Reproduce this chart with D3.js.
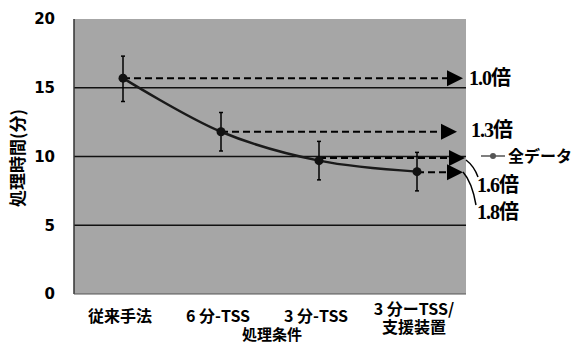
<!DOCTYPE html>
<html>
<head>
<meta charset="utf-8">
<script src="https://cdn.jsdelivr.net/npm/d3@7"></script>
<style>
  body { margin: 0; background: #fff; }
  svg { display: block; }
  .jp { font-family: "Noto Sans CJK JP", "Noto Sans", sans-serif; }
</style>
</head>
<body>
<svg id="draw"></svg>
<script>
// chart values
var categories = ["従来手法", "6 分-TSS", "3 分-TSS", "3 分ーTSS/\n支援装置"];
var meanValues = [15.7, 11.8, 9.7, 8.9];
var upperValues = [17.3, 13.2, 11.1, 10.3];
var lowerValues = [14.0, 10.4, 8.3, 7.5];
var ratioLabels = ["1.0倍", "1.3倍", "1.6倍", "1.8倍"];
var yTicks = [0, 5, 10, 15, 20];
var gridTicks = [5, 10, 15];

var width = 575, height = 343;
var margin = { top: 19, right: 109, bottom: 49, left: 74 };
var plotW = width - margin.left - margin.right;
var plotH = height - margin.top - margin.bottom;

var svg = d3.select("#draw")
  .attr("width", width)
  .attr("height", height);

var g = svg.append("g")
  .attr("transform", "translate(" + margin.left + "," + margin.top + ")");

var xScale = d3.scaleBand()
  .domain(categories)
  .range([0, plotW]);

var yScale = d3.scaleLinear()
  .domain([0, 20])
  .range([plotH, 0]);

function cx(d) { return xScale(d) + xScale.bandwidth() / 2; }

// plot background
g.append("rect")
  .attr("width", plotW)
  .attr("height", plotH)
  .attr("fill", "#a6a6a6");

// gridlines
g.selectAll(".grid")
  .data(gridTicks)
  .enter().append("line")
  .attr("x1", 0)
  .attr("x2", plotW)
  .attr("y1", function(d) { return yScale(d); })
  .attr("y2", function(d) { return yScale(d); })
  .attr("stroke", "#111")
  .attr("stroke-width", 1.5);

// left / bottom frame
g.append("line").attr("x1", 0).attr("x2", 0).attr("y1", 0).attr("y2", plotH)
  .attr("stroke", "#333").attr("stroke-width", 1.5);
g.append("line").attr("x1", 0).attr("x2", plotW).attr("y1", plotH).attr("y2", plotH)
  .attr("stroke", "#555").attr("stroke-width", 1);

// y axis
var yAxis = g.append("g")
  .call(d3.axisLeft(yScale).tickValues(yTicks).tickSize(0).tickPadding(19));
yAxis.select(".domain").remove();
yAxis.selectAll("text")
  .attr("font-family", "DejaVu Sans, sans-serif")
  .attr("font-weight", "bold")
  .attr("font-size", 15)
  .attr("fill", "#000");

// x axis labels (one text per line)
categories.forEach(function(d) {
  var lines = d.split("\n");
  lines.forEach(function(s, i) {
    g.append("text")
      .attr("class", "jp")
      .attr("text-anchor", "middle")
      .attr("font-size", 16)
      .attr("font-weight", "bold")
      .attr("fill", "#000")
      .attr("x", cx(d) - 3)
      .attr("y", lines.length > 1 ? plotH + 21 + i * 18 : plotH + 28)
      .text(s);
  });
});

// axis titles
svg.append("text")
  .attr("class", "jp")
  .attr("text-anchor", "middle")
  .attr("font-size", 15)
  .attr("font-weight", "bold")
  .attr("x", 272)
  .attr("y", 340)
  .text("処理条件");

svg.append("text")
  .attr("class", "jp")
  .attr("text-anchor", "middle")
  .attr("font-size", 17)
  .attr("font-weight", "bold")
  .attr("transform", "translate(24,158) rotate(-90)")
  .text("処理時間(分)");

// dashed arrows to ratio labels
var arrowEnd = [plotW - 3, plotW - 9, plotW - 1, plotW - 3];
var arrowY = [meanValues[0], meanValues[1], meanValues[2] + 0.2, meanValues[3] - 0.05];
var arrows = g.selectAll(".arrow")
  .data(categories)
  .enter().append("g");
arrows.append("line")
  .attr("x1", function(d) { return cx(d); })
  .attr("x2", function(d, i) { return arrowEnd[i] - 12; })
  .attr("y1", function(d, i) { return yScale(arrowY[i]); })
  .attr("y2", function(d, i) { return yScale(arrowY[i]); })
  .attr("stroke", "#000")
  .attr("stroke-width", 2)
  .attr("stroke-dasharray", "7,4");
arrows.append("path")
  .attr("d", function(d, i) {
    var x = arrowEnd[i], y = yScale(arrowY[i]);
    return "M" + x + "," + y + "L" + (x - 16) + "," + (y - 8) + "L" + (x - 16) + "," + (y + 8) + "Z";
  })
  .attr("fill", "#000");

// data line
var line = d3.line()
  .x(function(d) { return cx(d.c); })
  .y(function(d) { return yScale(d.v); })
  .curve(d3.curveCatmullRom.alpha(0.5));
var pts = categories.map(function(c, i) { return { c: c, v: meanValues[i], hi: upperValues[i], lo: lowerValues[i] }; });

g.append("path")
  .datum(pts)
  .attr("d", line)
  .attr("fill", "none")
  .attr("stroke", "#1a1a1a")
  .attr("stroke-width", 2.5);

// error bars
g.selectAll(".err")
  .data(pts)
  .enter().append("line")
  .attr("x1", function(d) { return cx(d.c); })
  .attr("x2", function(d) { return cx(d.c); })
  .attr("y1", function(d) { return yScale(d.hi); })
  .attr("y2", function(d) { return yScale(d.lo); })
  .attr("stroke", "#000")
  .attr("stroke-width", 1.5);
["hi", "lo"].forEach(function(k) {
  g.selectAll(".cap" + k)
    .data(pts)
    .enter().append("line")
    .attr("x1", function(d) { return cx(d.c) - 2; })
    .attr("x2", function(d) { return cx(d.c) + 2; })
    .attr("y1", function(d) { return yScale(d[k]); })
    .attr("y2", function(d) { return yScale(d[k]); })
    .attr("stroke", "#000")
    .attr("stroke-width", 1.5);
});

g.selectAll(".pt")
  .data(pts)
  .enter().append("circle")
  .attr("cx", function(d) { return cx(d.c); })
  .attr("cy", function(d) { return yScale(d.v); })
  .attr("r", 4.5)
  .attr("fill", "#111");

// ratio labels
var labelX = [469, 471, 477, 477];
var labelY = [78, 130, 185, 212];
svg.selectAll(".ratio")
  .data(ratioLabels)
  .enter().append("text")
  .attr("x", function(d, i) { return labelX[i]; })
  .attr("y", function(d, i) { return labelY[i]; })
  .attr("dy", "0.35em")
  .attr("font-family", "Liberation Serif, 'Noto Sans CJK JP', serif")
  .attr("font-weight", "bold")
  .attr("font-size", 20)
  .attr("letter-spacing", -1)
  .attr("fill", "#000")
  .text(function(d) { return d; });

// leader lines for 1.6 / 1.8
svg.append("path")
  .attr("d", "M466,160Q474,166 478,177")
  .attr("stroke", "#000").attr("stroke-width", 1.5).attr("fill", "none");
svg.append("path")
  .attr("d", "M463,172Q472,182 476,205")
  .attr("stroke", "#000").attr("stroke-width", 1.5).attr("fill", "none");

// legend
var leg = svg.append("g").attr("transform", "translate(481,156)");
leg.append("line").attr("x1", 0).attr("x2", 24).attr("y1", 0).attr("y2", 0)
  .attr("stroke", "#555").attr("stroke-width", 1.5);
leg.append("circle").attr("cx", 12).attr("cy", 0).attr("r", 3).attr("fill", "#555");
leg.append("text")
  .attr("class", "jp")
  .attr("x", 27)
  .attr("dy", "0.36em")
  .attr("font-size", 16)
  .attr("font-weight", "bold")
  .text("全データ");
</script>
</body>
</html>
